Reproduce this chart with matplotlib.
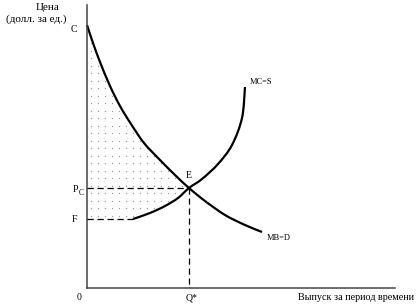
import numpy as np
import matplotlib
matplotlib.use('Agg')
import matplotlib.pyplot as plt
from matplotlib.patches import Polygon, PathPatch
from matplotlib.path import Path

# Coordinates (pixel units, y grows downward)
mb_x = [87, 93, 100, 110, 120, 131, 144, 160, 175, 189, 205, 225, 245, 262]
mb_y = [25, 43, 62, 86, 106, 124, 143, 160, 175, 188, 201, 215, 225, 232]
mc_x = [133, 150, 165, 178, 189, 202, 218, 232, 242, 245]
mc_y = [219, 213, 206, 198, 188, 179, 164, 145, 118, 87]

origin = (87, 288)
y_top = 5
x_right = 395
c_level = 25
e_point = (189, 188)
f_level = 219


def smooth_path(xs, ys):
    # Catmull-Rom through the read points, drawn as cubic Bezier segments
    p = np.column_stack([xs, ys]).astype(float)
    ext = np.vstack([p[0], p, p[-1]])
    verts = [p[0]]
    codes = [Path.MOVETO]
    for i in range(1, len(ext) - 2):
        c1 = ext[i] + (ext[i + 1] - ext[i - 1]) / 6
        c2 = ext[i + 1] - (ext[i + 2] - ext[i]) / 6
        verts += [c1, c2, ext[i + 1]]
        codes += [Path.CURVE4] * 3
    return Path(verts, codes)


plt.rcParams['font.family'] = ['Liberation Serif', 'DejaVu Serif']

fig = plt.figure(figsize=(4.18, 3.07), dpi=100)
ax = fig.add_axes([0, 0, 1, 1])
ax.set_xlim(0, 418)
ax.set_ylim(307, 0)
ax.axis('off')

# shaded (dotted) area between the y axis, MB and MC
n_mb = mb_x.index(e_point[0])
n_mc = mc_x.index(e_point[0])
poly_x = [origin[0]] + mb_x[:n_mb + 1] + mc_x[:n_mc][::-1] + [origin[0]]
poly_y = [c_level] + mb_y[:n_mb + 1] + mc_y[:n_mc][::-1] + [f_level]
patch = Polygon(list(zip(poly_x, poly_y)), closed=True, facecolor='none', edgecolor='none')
ax.add_patch(patch)
gx, gy = np.meshgrid(np.arange(origin[0] + 4, 200, 7), np.arange(c_level + 3, f_level, 7.5))
dots = ax.scatter(gx.ravel(), gy.ravel(), s=0.9, color='#999999', linewidths=0)
dots.set_clip_path(patch)

# axes
ax.plot([origin[0], origin[0]], [y_top, origin[1]], color='#444444', lw=1.1)
ax.plot([origin[0], x_right], [origin[1], origin[1]], color='#444444', lw=1.1)

# curves
ax.add_patch(PathPatch(smooth_path(mb_x, mb_y), facecolor='none', edgecolor='black', lw=1.6))
ax.add_patch(PathPatch(smooth_path(mc_x, mc_y), facecolor='none', edgecolor='black', lw=1.6))

# dashed guides
dash = dict(color='black', lw=0.9, dashes=(5, 3))
ax.plot([origin[0], e_point[0]], [e_point[1], e_point[1]], **dash)
ax.plot([e_point[0], e_point[0]], [e_point[1], origin[1]], **dash)
ax.plot([origin[0], mc_x[0]], [f_level, f_level], **dash)

# labels
fs = 7
ax.text(48, 8, 'Цена', ha='center', va='center', fontsize=8)
ax.text(36, 19, '(долл. за ед.)', ha='center', va='center', fontsize=8)
ax.text(74, 30, 'C', ha='center', va='center', fontsize=fs)
ax.text(75, 189, 'P', ha='center', va='center', fontsize=fs)
ax.text(81, 193, 'C', ha='center', va='center', fontsize=5.5)
ax.text(74, 220, 'F', ha='center', va='center', fontsize=fs)
ax.text(189, 175, 'E', ha='center', va='center', fontsize=fs)
ax.text(79, 298, '0', ha='center', va='center', fontsize=fs)
ax.text(192, 298, 'Q*', ha='center', va='center', fontsize=fs)
ax.text(250, 82, 'MC=S', ha='left', va='center', fontsize=6)
ax.text(267, 238, 'MB=D', ha='left', va='center', fontsize=6)
ax.text(356, 298, 'Выпуск за период времени', ha='center', va='center', fontsize=7.3)

fig.savefig('out.png', dpi=100)
